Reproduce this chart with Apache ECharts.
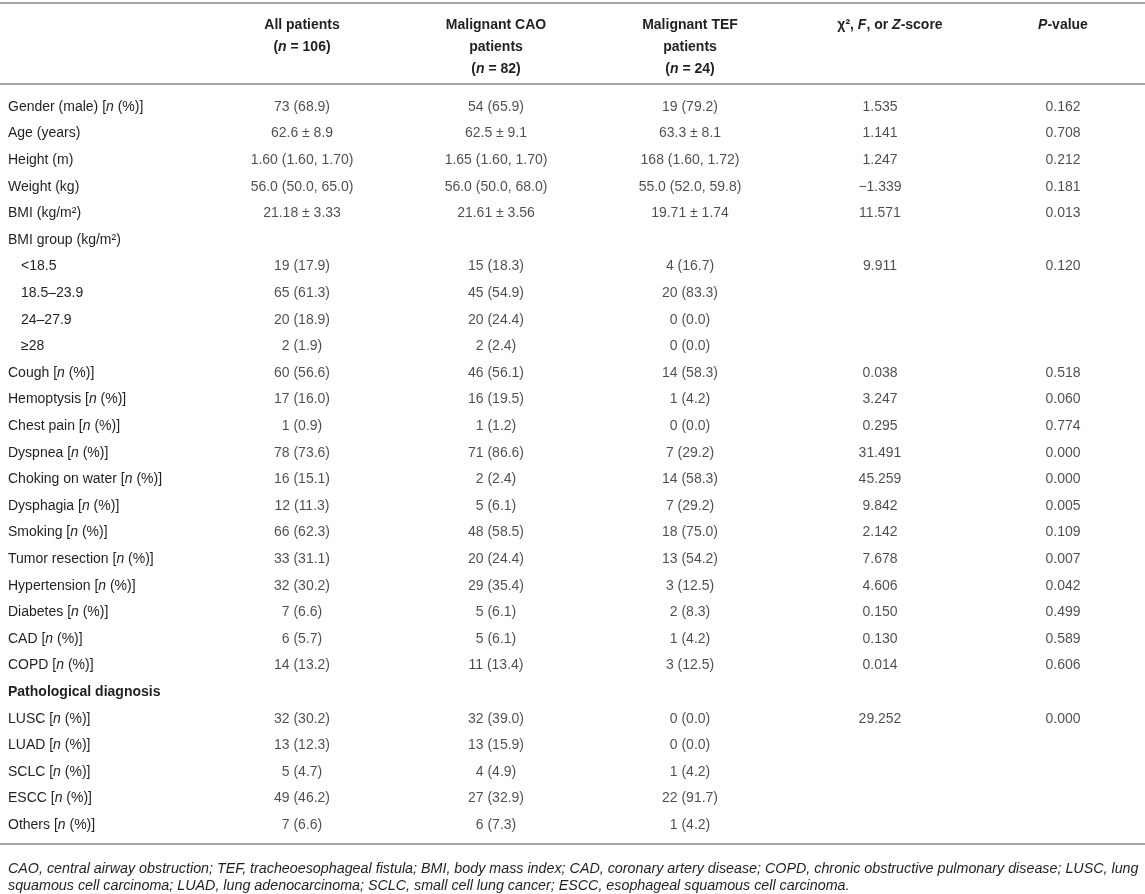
<!doctype html>
<html>
<head>
<meta charset="utf-8">
<title>Patient characteristics</title>
<script src="https://cdn.jsdelivr.net/npm/echarts@6/dist/echarts.min.js"></script>
<style>html,body{margin:0;padding:0;background:#fff;}</style>
</head>
<body>
<div id="chart" style="width:1145px;height:894px;"></div>
<script>
// ---- table content ----
var rowLabels = [
  'Gender (male) [n (%)]', 'Age (years)', 'Height (m)', 'Weight (kg)', 'BMI (kg/m²)',
  'BMI group (kg/m²)', '<18.5', '18.5–23.9', '24–27.9', '≥28',
  'Cough [n (%)]', 'Hemoptysis [n (%)]', 'Chest pain [n (%)]', 'Dyspnea [n (%)]',
  'Choking on water [n (%)]', 'Dysphagia [n (%)]', 'Smoking [n (%)]', 'Tumor resection [n (%)]',
  'Hypertension [n (%)]', 'Diabetes [n (%)]', 'CAD [n (%)]', 'COPD [n (%)]',
  'Pathological diagnosis', 'LUSC [n (%)]', 'LUAD [n (%)]', 'SCLC [n (%)]', 'ESCC [n (%)]', 'Others [n (%)]'
];
var bmiGroups = ['<18.5', '18.5–23.9', '24–27.9', '≥28'];
var sectionRows = ['Pathological diagnosis'];

var headers = [
  'All patients\n(n = 106)',
  'Malignant CAO\npatients\n(n = 82)',
  'Malignant TEF\npatients\n(n = 24)',
  'χ², F, or Z-score',
  'P-value'
];

var allPatients = [
  '73 (68.9)', '62.6 ± 8.9', '1.60 (1.60, 1.70)', '56.0 (50.0, 65.0)', '21.18 ± 3.33',
  '', '19 (17.9)', '65 (61.3)', '20 (18.9)', '2 (1.9)',
  '60 (56.6)', '17 (16.0)', '1 (0.9)', '78 (73.6)', '16 (15.1)', '12 (11.3)', '66 (62.3)', '33 (31.1)',
  '32 (30.2)', '7 (6.6)', '6 (5.7)', '14 (13.2)',
  '', '32 (30.2)', '13 (12.3)', '5 (4.7)', '49 (46.2)', '7 (6.6)'
];
var caoPatients = [
  '54 (65.9)', '62.5 ± 9.1', '1.65 (1.60, 1.70)', '56.0 (50.0, 68.0)', '21.61 ± 3.56',
  '', '15 (18.3)', '45 (54.9)', '20 (24.4)', '2 (2.4)',
  '46 (56.1)', '16 (19.5)', '1 (1.2)', '71 (86.6)', '2 (2.4)', '5 (6.1)', '48 (58.5)', '20 (24.4)',
  '29 (35.4)', '5 (6.1)', '5 (6.1)', '11 (13.4)',
  '', '32 (39.0)', '13 (15.9)', '4 (4.9)', '27 (32.9)', '6 (7.3)'
];
var tefPatients = [
  '19 (79.2)', '63.3 ± 8.1', '168 (1.60, 1.72)', '55.0 (52.0, 59.8)', '19.71 ± 1.74',
  '', '4 (16.7)', '20 (83.3)', '0 (0.0)', '0 (0.0)',
  '14 (58.3)', '1 (4.2)', '0 (0.0)', '7 (29.2)', '14 (58.3)', '7 (29.2)', '18 (75.0)', '13 (54.2)',
  '3 (12.5)', '2 (8.3)', '1 (4.2)', '3 (12.5)',
  '', '0 (0.0)', '0 (0.0)', '1 (4.2)', '22 (91.7)', '1 (4.2)'
];
var testStats = [
  '1.535', '1.141', '1.247', '−1.339', '11.571',
  '', '9.911', '', '', '',
  '0.038', '3.247', '0.295', '31.491', '45.259', '9.842', '2.142', '7.678',
  '4.606', '0.150', '0.130', '0.014',
  '', '29.252', '', '', '', ''
];
var pValues = [
  '0.162', '0.708', '0.212', '0.181', '0.013',
  '', '0.120', '', '', '',
  '0.518', '0.060', '0.774', '0.000', '0.000', '0.005', '0.109', '0.007',
  '0.042', '0.499', '0.589', '0.606',
  '', '0.000', '', '', '', ''
];
var columns = [allPatients, caoPatients, tefPatients, testStats, pValues];

var footnote = 'CAO, central airway obstruction; TEF, tracheoesophageal fistula; BMI, body mass index; CAD, coronary artery disease; COPD, chronic obstructive pulmonary disease; LUSC, lung\n' +
  'squamous cell carcinoma; LUAD, lung adenocarcinoma; SCLC, small cell lung cancer; ESCC, esophageal squamous cell carcinoma.';

// ---- layout ----
var FONT = 'Liberation Sans, Arial, Helvetica, sans-serif';
var TEXT = '#231f20';
var RULE = '#a6a6a6';
var colCenter = [302, 496, 690, 880, 1063];
var colWidth = 150;
var rowH = 26.6;
var bodyTop = 107 - rowH / 2;
var bodyH = rowH * rowLabels.length;

// italicise single-letter symbols (n, F, Z, P)
function italics(s) {
  return s.replace(/(^|[^A-Za-z])([nFZP])(?=[^A-Za-z]|$)/g, '$1{i|$2}');
}
function fmtRow(s) {
  if (sectionRows.indexOf(s) >= 0) return '{b|' + s + '}';
  if (bmiGroups.indexOf(s) >= 0) return '{ind|' + s + '}';
  return italics(s);
}

var grids = [{ left: 8, width: 200, top: bodyTop, height: bodyH }];
var xAxes = [{ gridIndex: 0, type: 'category', data: [''], show: false }];
var yAxes = [{
  gridIndex: 0, type: 'category', data: rowLabels, inverse: true,
  axisLine: { show: false }, axisTick: { show: false }, splitLine: { show: false },
  axisLabel: {
    inside: true, margin: 0, interval: 0, formatter: fmtRow,
    color: TEXT, fontFamily: FONT, fontSize: 14,
    rich: {
      i: { fontStyle: 'italic', color: TEXT, fontFamily: FONT, fontSize: 14 },
      b: { fontWeight: 'bold', color: TEXT, fontFamily: FONT, fontSize: 14 },
      ind: { padding: [0, 0, 0, 13], color: TEXT, fontFamily: FONT, fontSize: 14 }
    }
  }
}];
var series = [];

columns.forEach(function (vals, j) {
  var g = j + 1;
  grids.push({ left: colCenter[j] - colWidth / 2, width: colWidth, top: bodyTop, height: bodyH });
  xAxes.push({
    gridIndex: g, type: 'category', position: 'top', data: [headers[j]],
    axisLine: { show: false }, axisTick: { show: false }, splitLine: { show: false },
    axisLabel: {
      interval: 0, margin: 80, verticalAlign: 'top', lineHeight: 22,
      padding: j === 3 ? [0, 0, 0, 20] : 0,
      formatter: italics,
      color: TEXT, fontFamily: FONT, fontSize: 14, fontWeight: 'bold',
      rich: {
        i: { fontStyle: 'italic', fontWeight: 'bold', color: TEXT, fontFamily: FONT, fontSize: 14, lineHeight: 22 }
      }
    }
  });
  yAxes.push({ gridIndex: g, type: 'category', data: rowLabels, inverse: true, show: false });
  var data = [];
  rowLabels.forEach(function (r, i) {
    if (vals[i]) data.push([0, r, vals[i]]);
  });
  series.push({
    type: 'scatter', xAxisIndex: g, yAxisIndex: g, data: data,
    symbolSize: 1, itemStyle: { color: 'rgba(0,0,0,0)' }, silent: true,
    label: {
      show: true, position: 'inside',
      formatter: function (p) { return p.value[2]; },
      color: TEXT, fontFamily: FONT, fontSize: 14
    }
  });
});

var chart = echarts.init(document.getElementById('chart'));
chart.setOption({
  animation: false,
  backgroundColor: '#fff',
  title: {
    text: footnote, left: 3, top: 856,
    textStyle: { fontFamily: FONT, fontSize: 14.3, fontStyle: 'italic', fontWeight: 'normal', color: TEXT, lineHeight: 17 }
  },
  grid: grids,
  xAxis: xAxes,
  yAxis: yAxes,
  series: series,
  graphic: [
    { type: 'rect', shape: { x: 0, y: 2, width: 1145, height: 2 }, style: { fill: RULE } },
    { type: 'rect', shape: { x: 0, y: 83, width: 1145, height: 2 }, style: { fill: RULE } },
    { type: 'rect', shape: { x: 0, y: 843, width: 1145, height: 2 }, style: { fill: RULE } }
  ]
});
</script>
</body>
</html>
